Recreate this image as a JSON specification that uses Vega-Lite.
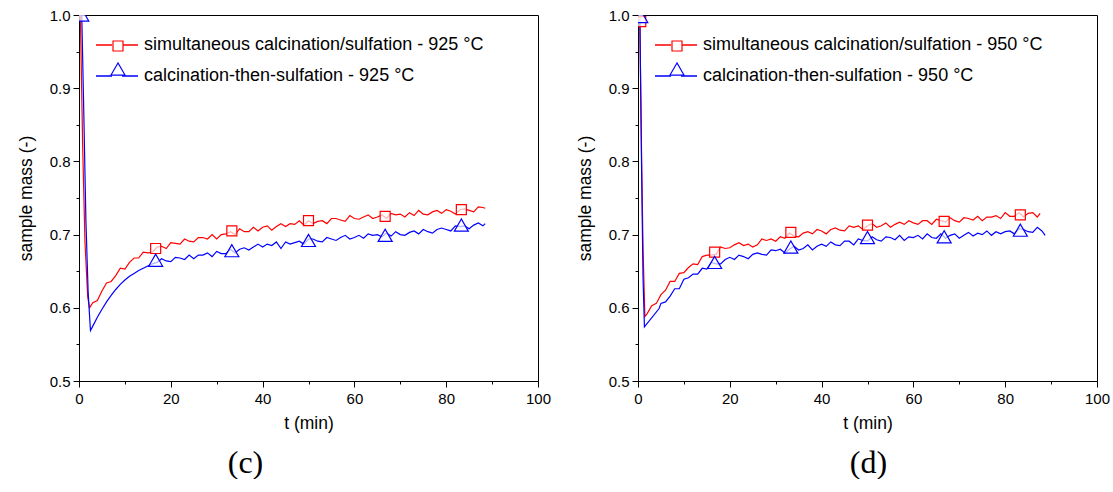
{
  "$schema": "https://vega.github.io/schema/vega-lite/v6.json",
  "background": "white",
  "padding": {"left": 16, "top": 7, "right": 5, "bottom": 0},
  "spacing": 100,
  "bounds": "flush",
  "datasets": {
    "lc": [
      {"t":0,"r":1.0,"b":1.0},{"t":0.3,"r":0.998,"b":null},{"t":0.6,"r":null,"b":1.0},{"t":0.8,"r":0.82,"b":null},{"t":1.0,"r":null,"b":0.88},{"t":1.3,"r":0.69,"b":null},{"t":1.5,"r":null,"b":0.72},{"t":1.9,"r":0.615,"b":null},{"t":2.0,"r":null,"b":0.62},{"t":2.3,"r":0.600,"b":null},{"t":2.5,"r":null,"b":0.569},
      {"t":3,"r":0.607,"b":0.575},{"t":4,"r":0.610,"b":0.587},{"t":5,"r":0.623,"b":0.598},{"t":6,"r":0.634,"b":0.608},{"t":7,"r":0.636,"b":0.617},{"t":8,"r":0.644,"b":0.625},{"t":9,"r":0.654,"b":0.632},{"t":10,"r":0.653,"b":0.638},{"t":11,"r":0.662,"b":0.643},{"t":12,"r":0.668,"b":0.647},{"t":13,"r":0.668,"b":0.651},{"t":14,"r":0.676,"b":0.654},{"t":15,"r":0.675,"b":0.657},{"t":16,"r":0.676,"b":0.660},{"t":17,"r":0.683,"b":0.662},{"t":18,"r":0.684,"b":0.667},{"t":19,"r":0.681,"b":0.664},{"t":20,"r":0.689,"b":0.663},
      {"t":21,"r":0.688,"b":0.669},{"t":22,"r":0.687,"b":0.668},{"t":23,"r":0.694,"b":0.666},{"t":24,"r":0.691,"b":0.672},{"t":25,"r":0.690,"b":0.667},{"t":26,"r":0.696,"b":0.672},{"t":27,"r":0.696,"b":0.672},{"t":28,"r":0.694,"b":0.675},{"t":29,"r":0.700,"b":0.670},{"t":30,"r":0.694,"b":0.677},{"t":31,"r":0.700,"b":0.674},{"t":32,"r":0.701,"b":0.674},{"t":33,"r":0.704,"b":0.680},{"t":34,"r":0.700,"b":0.675},{"t":35,"r":0.708,"b":0.680},{"t":36,"r":0.704,"b":0.682},{"t":37,"r":0.704,"b":0.679},{"t":38,"r":0.710,"b":0.683},{"t":39,"r":0.705,"b":0.687},{"t":40,"r":0.710,"b":0.683},
      {"t":41,"r":0.712,"b":0.687},{"t":42,"r":0.706,"b":0.685},{"t":43,"r":0.711,"b":0.690},{"t":44,"r":0.715,"b":0.681},{"t":45,"r":0.711,"b":0.690},{"t":46,"r":0.715,"b":0.687},{"t":47,"r":0.714,"b":0.689},{"t":48,"r":0.719,"b":0.691},{"t":49,"r":0.713,"b":0.687},{"t":50,"r":0.719,"b":0.694},{"t":51,"r":0.715,"b":0.694},{"t":52,"r":0.718,"b":0.691},{"t":53,"r":0.719,"b":0.690},{"t":54,"r":0.715,"b":0.696},{"t":55,"r":0.722,"b":0.694},{"t":56,"r":0.722,"b":0.692},{"t":57,"r":0.720,"b":0.696},{"t":58,"r":0.718,"b":0.699},{"t":59,"r":0.726,"b":0.694},{"t":60,"r":0.722,"b":0.696},
      {"t":61,"r":0.721,"b":0.699},{"t":62,"r":0.724,"b":0.695},{"t":63,"r":0.727,"b":0.701},{"t":64,"r":0.722,"b":0.699},{"t":65,"r":0.724,"b":0.700},{"t":66,"r":0.727,"b":0.697},{"t":67,"r":0.722,"b":0.702},{"t":68,"r":0.729,"b":0.698},{"t":69,"r":0.727,"b":0.704},{"t":70,"r":0.728,"b":0.700},{"t":71,"r":0.724,"b":0.699},{"t":72,"r":0.730,"b":0.703},{"t":73,"r":0.726,"b":0.705},{"t":74,"r":0.733,"b":0.701},{"t":75,"r":0.728,"b":0.707},{"t":76,"r":0.727,"b":0.704},{"t":77,"r":0.731,"b":0.702},{"t":78,"r":0.733,"b":0.707},{"t":79,"r":0.729,"b":0.709},{"t":80,"r":0.734,"b":0.707},
      {"t":81,"r":0.732,"b":0.705},{"t":82,"r":0.728,"b":0.712},{"t":83,"r":0.734,"b":0.711},{"t":84,"r":0.735,"b":0.712},{"t":85,"r":0.733,"b":0.708},{"t":86,"r":0.731,"b":0.713},{"t":87,"r":0.738,"b":0.716},{"t":88,"r":0.737,"b":0.712},{"t":88.5,"r":0.736,"b":0.715}
    ],
    "lm": [
      {"t":0.6,"R":null,"B":1.0},{"t":16.7,"R":0.681,"B":0.665},{"t":33.3,"R":0.705,"B":0.678},{"t":50,"R":0.719,"B":0.692},{"t":66.7,"R":0.725,"B":0.699},{"t":83.3,"R":0.734,"B":0.713}
    ],
    "rc": [
      {"t":0,"r":1.0,"b":1.0},{"t":0.4,"r":0.993,"b":0.999},{"t":0.8,"r":0.80,"b":0.78},{"t":1.1,"r":0.68,"b":0.64},{"t":1.4,"r":null,"b":0.574},{"t":1.5,"r":0.588,"b":null},{"t":2,"r":0.592,"b":null},{"t":3,"r":0.603,"b":null},{"t":4,"r":0.606,"b":null},{"t":4.6,"r":null,"b":0.599},
      {"t":5,"r":0.618,"b":0.606},{"t":6,"r":0.624,"b":0.608},{"t":7,"r":0.636,"b":0.616},{"t":8,"r":0.636,"b":0.626},{"t":9,"r":0.647,"b":0.626},{"t":10,"r":0.648,"b":0.639},{"t":11,"r":0.655,"b":0.641},{"t":12,"r":0.660,"b":0.646},{"t":13,"r":0.659,"b":0.646},{"t":14,"r":0.670,"b":0.654},{"t":15,"r":0.672,"b":0.653},{"t":16,"r":0.672,"b":0.662},{"t":17,"r":0.673,"b":0.660},{"t":18,"r":0.683,"b":0.660},{"t":19,"r":0.681,"b":0.666},{"t":20,"r":0.682,"b":0.669},
      {"t":21,"r":0.686,"b":0.666},{"t":22,"r":0.689,"b":0.672},{"t":23,"r":0.685,"b":0.670},{"t":24,"r":0.687,"b":0.667},{"t":25,"r":0.683,"b":0.673},{"t":26,"r":0.686,"b":0.675},{"t":27,"r":0.694,"b":0.673},{"t":28,"r":0.692,"b":0.672},{"t":29,"r":0.694,"b":0.679},{"t":30,"r":0.691,"b":0.678},{"t":31,"r":0.697,"b":0.680},{"t":32,"r":0.695,"b":0.675},{"t":33,"r":0.702,"b":0.680},{"t":34,"r":0.698,"b":0.684},{"t":35,"r":0.697,"b":0.679},{"t":36,"r":0.702,"b":0.681},{"t":37,"r":0.704,"b":0.686},{"t":38,"r":0.701,"b":0.679},{"t":39,"r":0.707,"b":0.684},{"t":40,"r":0.705,"b":0.687},
      {"t":41,"r":0.701,"b":0.684},{"t":42,"r":0.707,"b":0.690},{"t":43,"r":0.709,"b":0.686},{"t":44,"r":0.706,"b":0.685},{"t":45,"r":0.705,"b":0.691},{"t":46,"r":0.712,"b":0.691},{"t":47,"r":0.710,"b":0.686},{"t":48,"r":0.712,"b":0.694},{"t":49,"r":0.707,"b":0.692},{"t":50,"r":0.712,"b":0.691},{"t":51,"r":0.715,"b":0.697},{"t":52,"r":0.710,"b":0.693},{"t":53,"r":0.712,"b":0.691},{"t":54,"r":0.716,"b":0.697},{"t":55,"r":0.710,"b":0.696},{"t":56,"r":0.714,"b":0.693},{"t":57,"r":0.717,"b":0.699},{"t":58,"r":0.714,"b":0.692},{"t":59,"r":0.719,"b":0.697},{"t":60,"r":0.716,"b":0.696},
      {"t":61,"r":0.714,"b":0.699},{"t":62,"r":0.719,"b":0.694},{"t":63,"r":0.719,"b":0.701},{"t":64,"r":0.714,"b":0.696},{"t":65,"r":0.721,"b":0.695},{"t":66,"r":0.719,"b":0.701},{"t":67,"r":0.717,"b":0.695},{"t":68,"r":0.723,"b":0.699},{"t":69,"r":0.719,"b":0.701},{"t":70,"r":0.717,"b":0.695},{"t":71,"r":0.723,"b":0.699},{"t":72,"r":0.722,"b":0.703},{"t":73,"r":0.720,"b":0.698},{"t":74,"r":0.725,"b":0.702},{"t":75,"r":0.719,"b":0.700},{"t":76,"r":0.724,"b":0.705},{"t":77,"r":0.724,"b":0.699},{"t":78,"r":0.726,"b":0.704},{"t":79,"r":0.722,"b":0.701},{"t":80,"r":0.730,"b":0.704},
      {"t":81,"r":0.725,"b":0.705},{"t":82,"r":0.725,"b":0.701},{"t":83,"r":0.730,"b":0.708},{"t":84,"r":0.724,"b":0.707},{"t":85,"r":0.729,"b":0.704},{"t":86,"r":0.730,"b":0.703},{"t":87,"r":0.724,"b":0.710},{"t":87.6,"r":0.729,"b":null},{"t":88,"r":null,"b":0.705},{"t":88.7,"r":null,"b":0.699}
    ],
    "rm": [
      {"t":0.6,"R":0.991,"B":0.998},{"t":16.7,"R":0.676,"B":0.662},{"t":33.3,"R":0.703,"B":0.683},{"t":50,"R":0.713,"B":0.696},{"t":66.7,"R":0.718,"B":0.697},{"t":83.3,"R":0.727,"B":0.706}
    ]
  },
  "hconcat": [
    {
      "width": 459,
      "height": 366,
      "title": {"text": "(c)", "orient": "bottom", "anchor": "middle", "dx": -63, "offset": 16, "font": "Liberation Serif", "fontSize": 32, "fontWeight": "normal", "color": "black"},
      "encoding": {
        "x": {"field": "t", "type": "quantitative", "scale": {"domain": [0, 100], "nice": false},
          "axis": {"title": "t (min)", "values": [0,10,20,30,40,50,60,70,80,90,100], "labelExpr": "datum.value % 20 == 0 ? datum.label : ''", "tickSize": {"condition": {"test": "datum.value % 20 == 0", "value": 6}, "value": 3}, "labelPadding": 4, "titlePadding": 8, "labelFlush": false, "labelOverlap": false}},
        "y": {"field": "m", "type": "quantitative", "scale": {"domain": [0.5, 1.0], "nice": false, "zero": false},
          "axis": {"title": "sample mass (-)", "values": [0.5,0.55,0.6,0.65,0.7,0.75,0.8,0.85,0.9,0.95,1.0], "labelExpr": "abs(datum.value*10 - round(datum.value*10)) < 0.01 ? format(datum.value, '.1f') : ''", "tickSize": {"condition": {"test": "abs(datum.value*10 - round(datum.value*10)) < 0.01", "value": 6}, "value": 3}, "labelPadding": 3, "titlePadding": 14, "labelFlush": false, "labelOverlap": false}}
      },
      "layer": [
        {"data": {"name": "lc"}, "transform": [{"fold": ["r", "b"], "as": ["s", "m"]}, {"filter": {"field": "m", "valid": true}}],
          "mark": {"type": "line", "strokeWidth": 1.2, "clip": true},
          "encoding": {
            "stroke": {"field": "s", "type": "nominal", "scale": {"domain": ["r", "b"], "range": ["#ff0000", "#0000ff"]},
              "legend": {"title": null, "orient": "none", "legendX": 16, "legendY": 8, "padding": 0, "labelOffset": 5, "rowPadding": -4, "labelFontSize": 18, "labelFont": "Liberation Sans", "labelColor": "black", "labelLimit": 0, "symbolType": "stroke", "symbolSize": 1764, "symbolStrokeWidth": 1.3, "symbolDash": [16, 10],
                "labelExpr": "datum.value == 'r' ? 'simultaneous calcination/sulfation - 925 °C' : 'calcination-then-sulfation - 925 °C'"}}
          }},
        {"data": {"name": "lm"}, "transform": [{"fold": ["R", "B"], "as": ["k", "m"]}, {"filter": {"field": "m", "valid": true}}],
          "mark": {"type": "point", "filled": false, "fill": "white", "fillOpacity": 0.7, "strokeWidth": 1.2, "opacity": 1, "clip": true},
          "encoding": {
            "color": {"field": "k", "type": "nominal", "scale": {"domain": ["R", "B"], "range": ["#ff0000", "#0000ff"]},
              "legend": {"title": null, "orient": "top-left", "offset": 22, "padding": 0, "symbolOffset": 8, "rowPadding": 5, "labelFontSize": 18, "labelFont": "Liberation Sans", "labelExpr": "' '", "symbolStrokeWidth": 1.2, "symbolFillColor": "white", "zindex": 1}},
            "shape": {"field": "k", "type": "nominal", "scale": {"domain": ["R", "B"], "range": ["square", "triangle-up"]}, "legend": null},
            "size": {"field": "k", "type": "nominal", "scale": {"domain": ["R", "B"], "range": [100, 196]}, "legend": null}
          }}
      ]
    },
    {
      "width": 459,
      "height": 366,
      "title": {"text": "(d)", "orient": "bottom", "anchor": "middle", "dx": 1, "offset": 16, "font": "Liberation Serif", "fontSize": 32, "fontWeight": "normal", "color": "black"},
      "encoding": {
        "x": {"field": "t", "type": "quantitative", "scale": {"domain": [0, 100], "nice": false},
          "axis": {"title": "t (min)", "values": [0,10,20,30,40,50,60,70,80,90,100], "labelExpr": "datum.value % 20 == 0 ? datum.label : ''", "tickSize": {"condition": {"test": "datum.value % 20 == 0", "value": 6}, "value": 3}, "labelPadding": 4, "titlePadding": 8, "labelFlush": false, "labelOverlap": false}},
        "y": {"field": "m", "type": "quantitative", "scale": {"domain": [0.5, 1.0], "nice": false, "zero": false},
          "axis": {"title": "sample mass (-)", "values": [0.5,0.55,0.6,0.65,0.7,0.75,0.8,0.85,0.9,0.95,1.0], "labelExpr": "abs(datum.value*10 - round(datum.value*10)) < 0.01 ? format(datum.value, '.1f') : ''", "tickSize": {"condition": {"test": "abs(datum.value*10 - round(datum.value*10)) < 0.01", "value": 6}, "value": 3}, "labelPadding": 3, "titlePadding": 14, "labelFlush": false, "labelOverlap": false}}
      },
      "layer": [
        {"data": {"name": "rc"}, "transform": [{"fold": ["r", "b"], "as": ["s", "m"]}, {"filter": {"field": "m", "valid": true}}],
          "mark": {"type": "line", "strokeWidth": 1.2, "clip": true},
          "encoding": {
            "stroke": {"field": "s", "type": "nominal", "scale": {"domain": ["r", "b"], "range": ["#ff0000", "#0000ff"]},
              "legend": {"title": null, "orient": "none", "legendX": 16, "legendY": 8, "padding": 0, "labelOffset": 5, "rowPadding": -4, "labelFontSize": 18, "labelFont": "Liberation Sans", "labelColor": "black", "labelLimit": 0, "symbolType": "stroke", "symbolSize": 1764, "symbolStrokeWidth": 1.3, "symbolDash": [16, 10],
                "labelExpr": "datum.value == 'r' ? 'simultaneous calcination/sulfation - 950 °C' : 'calcination-then-sulfation - 950 °C'"}}
          }},
        {"data": {"name": "rm"}, "transform": [{"fold": ["R", "B"], "as": ["k", "m"]}, {"filter": {"field": "m", "valid": true}}],
          "mark": {"type": "point", "filled": false, "fill": "white", "fillOpacity": 0.7, "strokeWidth": 1.2, "opacity": 1, "clip": true},
          "encoding": {
            "color": {"field": "k", "type": "nominal", "scale": {"domain": ["R", "B"], "range": ["#ff0000", "#0000ff"]},
              "legend": {"title": null, "orient": "top-left", "offset": 22, "padding": 0, "symbolOffset": 8, "rowPadding": 5, "labelFontSize": 18, "labelFont": "Liberation Sans", "labelExpr": "' '", "symbolStrokeWidth": 1.2, "symbolFillColor": "white", "zindex": 1}},
            "shape": {"field": "k", "type": "nominal", "scale": {"domain": ["R", "B"], "range": ["square", "triangle-up"]}, "legend": null},
            "size": {"field": "k", "type": "nominal", "scale": {"domain": ["R", "B"], "range": [100, 196]}, "legend": null}
          }}
      ]
    }
  ],
  "resolve": {"scale": {"color": "independent", "stroke": "independent", "shape": "independent", "size": "independent", "x": "independent", "y": "independent"}, "legend": {"color": "independent", "stroke": "independent"}},
  "config": {
    "view": {"stroke": "black", "strokeWidth": 1},
    "axis": {"domainColor": "black", "domainWidth": 1, "tickColor": "black", "tickWidth": 1, "labelColor": "black", "titleColor": "black", "labelFont": "Liberation Sans", "titleFont": "Liberation Sans", "labelFontSize": 15, "titleFontSize": 17.5, "titleFontWeight": "normal", "grid": false}
  }
}
